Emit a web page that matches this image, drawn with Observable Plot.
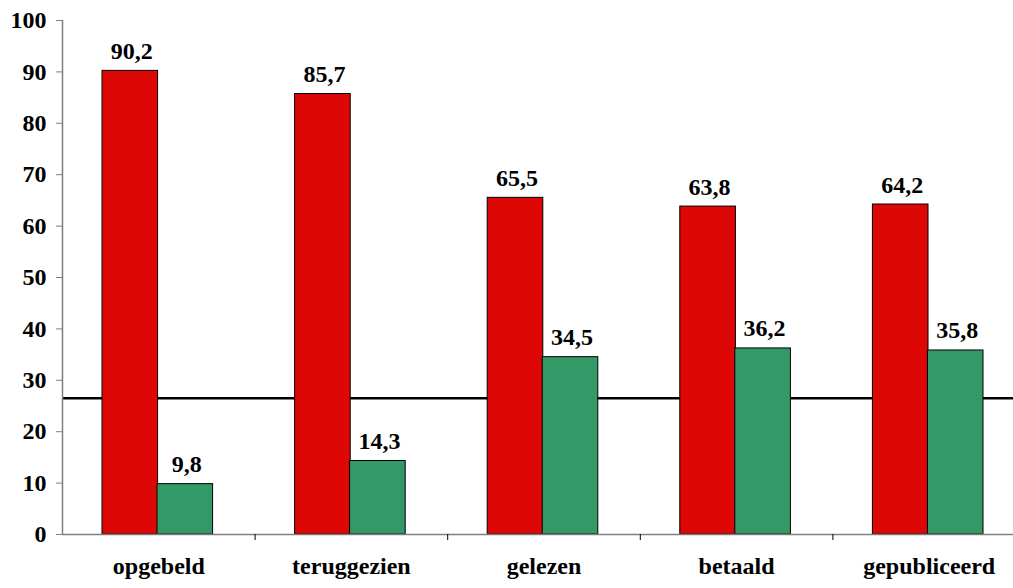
<!DOCTYPE html>
<html>
<head>
<meta charset="utf-8">
<script src="https://cdn.jsdelivr.net/npm/d3@7"></script>
<script src="https://cdn.jsdelivr.net/npm/@observablehq/plot@0.6"></script>
<style>
  html, body { margin: 0; padding: 0; background: #fff; }
  svg { display: block; }
</style>
</head>
<body>
<div id="chart"></div>
<script>
const categories = ["opgebeld", "teruggezien", "gelezen", "betaald", "gepubliceerd"];
const redValues = [90.2, 85.7, 65.5, 63.8, 64.2];
const greenValues = [9.8, 14.3, 34.5, 36.2, 35.8];
const referenceLine = 26.5;
const yTicks = [0, 10, 20, 30, 40, 50, 60, 70, 80, 90, 100];

const RED = "#dd0806";
const GREEN = "#339966";
const FONT = "Liberation Serif";
const FS = 24;

const rows = categories.map((c, i) => ({c, i, red: redValues[i], green: greenValues[i]}));
const fmt = v => v.toFixed(1).replace(".", ",");

const chart = Plot.plot({
  width: 1013,
  height: 588,
  marginTop: 20,
  marginBottom: 54,
  marginLeft: 62,
  marginRight: 0,
  style: {fontFamily: FONT, fontWeight: "bold", fontSize: FS + "px", color: "#000", background: "#fff"},
  x: {domain: [0, categories.length], range: [62, 1025], axis: null},
  y: {domain: [0, 100], range: [534, 20], axis: null},
  marks: [
    Plot.ruleY([referenceLine], {stroke: "#000", strokeWidth: 2.5}),
    Plot.rectY(rows, {x1: "i", x2: d => d.i + 1, y1: 0, y2: "red", fill: RED, stroke: "#000", strokeWidth: 1, insetLeft: 40, insetRight: 97}),
    Plot.rectY(rows, {x1: "i", x2: d => d.i + 1, y1: 0, y2: "green", fill: GREEN, stroke: "#000", strokeWidth: 1, insetLeft: 95, insetRight: 42}),
    Plot.text(rows, {x: d => d.i + 0.5, y: "red", text: d => fmt(d.red), dx: -27, dy: -12, lineAnchor: "bottom", fontFamily: FONT, fontSize: FS, fontWeight: "bold", fill: "#000"}),
    Plot.text(rows, {x: d => d.i + 0.5, y: "green", text: d => fmt(d.green), dx: 28, dy: -12, lineAnchor: "bottom", fontFamily: FONT, fontSize: FS, fontWeight: "bold", fill: "#000"}),
    Plot.ruleY([0], {stroke: "#808080", strokeWidth: 1.5}),
    Plot.ruleX([0], {y1: 0, y2: 100, stroke: "#808080", strokeWidth: 1.5}),
    Plot.axisY({ticks: yTicks, tickSize: 6, tickPadding: 10, tickFormat: d => String(d), stroke: "#808080", fontFamily: FONT, fontSize: FS, fontWeight: "bold", label: null}),
    Plot.axisX({ticks: [1, 2, 3, 4], tickSize: 6, tickFormat: () => "", stroke: "#000", label: null}),
    Plot.text(rows, {x: d => d.i + 0.5, y: 0, text: "c", dy: 39, lineAnchor: "bottom", fontFamily: FONT, fontSize: FS, fontWeight: "bold", fill: "#000"})
  ]
});
document.getElementById("chart").appendChild(chart);
</script>
</body>
</html>
